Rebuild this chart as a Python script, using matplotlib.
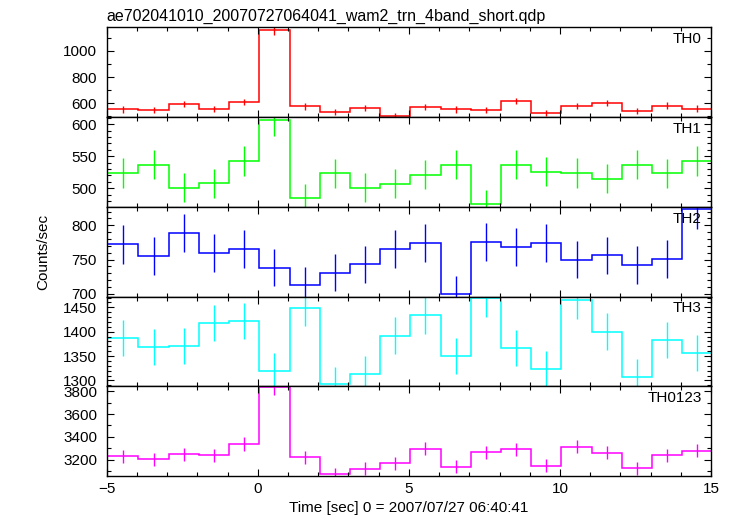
import numpy as np
from matplotlib import pyplot as plt
from matplotlib.ticker import MultipleLocator

plt.rcParams['font.family'] = ['Liberation Sans', 'DejaVu Sans']

TITLE = "ae702041010_20070727064041_wam2_trn_4band_short.qdp"
XLABEL = "Time [sec] 0 = 2007/07/27 06:40:41"
YLABEL = "Counts/sec"

# bin centres (1 s bins)
time = [-4.45, -3.45, -2.45, -1.45, -0.45, 0.55, 1.55, 2.55, 3.55, 4.55,
        5.55, 6.55, 7.55, 8.55, 9.55, 10.55, 11.55, 12.55, 13.55, 14.55]
bin_width = 1.0

th0 = [552, 546, 592, 554, 610, 1158, 575, 534, 562, 503,
       569, 552, 546, 618, 524, 577, 600, 539, 582, 559]
th1 = [524, 537, 501, 508, 543, 606, 484, 523, 501, 507,
       521, 537, 475, 537, 526, 524, 515, 537, 523, 543]
th2 = [772, 755, 789, 760, 765, 738, 713, 731, 743, 766,
       774, 699, 776, 769, 774, 750, 756, 742, 751, 824]
th3 = [1387, 1368, 1371, 1418, 1422, 1319, 1449, 1292, 1314, 1392,
       1434, 1350, 1468, 1366, 1323, 1464, 1400, 1308, 1383, 1356]
th0123 = [3232, 3206, 3250, 3241, 3338, 3832, 3221, 3074, 3124, 3171,
          3297, 3141, 3268, 3291, 3147, 3315, 3262, 3126, 3241, 3279]

names = ["TH0", "TH1", "TH2", "TH3", "TH0123"]
colors = ["#ff0000", "#00ff00", "#0000ff", "#00ffff", "#ff00ff"]
ylims = [(494, 1180), (471, 611), (696, 827), (1288, 1472), (3059, 3842)]
major = [200, 50, 50, 50, 200]
minor = [100, 10, 10, 10, 100]

FS = 11


def main():
    fig = plt.figure(figsize=(7.33, 5.16), dpi=100)
    left, right, top, bottom = 0.1456, 0.970, 0.947, 0.0775
    h = (top - bottom) / 5
    series = [th0, th1, th2, th3, th0123]
    t = np.array(time)
    edges = np.append(t - bin_width / 2, t[-1] + bin_width / 2)

    for i, vals in enumerate(series):
        ax = fig.add_axes([left, top - (i + 1) * h, right - left, h])
        vals = np.array(vals, dtype=float)
        err = np.sqrt(vals * bin_width) / bin_width  # poisson errors
        ax.stairs(vals, edges, baseline=None, color=colors[i], lw=1.1)
        ax.errorbar(t, vals, yerr=err, fmt='none', ecolor=colors[i], elinewidth=1.0, capsize=0)
        ax.set_xlim(-5, 15)
        ax.set_ylim(*ylims[i])
        ax.xaxis.set_major_locator(MultipleLocator(5))
        ax.xaxis.set_minor_locator(MultipleLocator(1))
        ax.yaxis.set_major_locator(MultipleLocator(major[i]))
        ax.yaxis.set_minor_locator(MultipleLocator(minor[i]))
        ax.tick_params(which='both', direction='in', top=True, right=True, labelsize=FS, width=0.8)
        ax.tick_params(which='major', length=5, pad=7)
        ax.tick_params(which='minor', length=3)
        ax.tick_params(axis='x', pad=4)
        for s in ax.spines.values():
            s.set_linewidth(1.0)
        if i < 4:
            ax.tick_params(labelbottom=False)
        ax.text(0.985, 0.945, names[i], transform=ax.transAxes, ha='right', va='top', fontsize=FS)

    fig.text(left, 1 - 16 / 516, TITLE, ha='left', va='center', fontsize=11.5)
    fig.text(43 / 733, (top + bottom) / 2, YLABEL, rotation=90, ha='center', va='center', fontsize=FS)
    fig.text((left + right) / 2, 1 - 508 / 516, XLABEL, ha='center', va='center', fontsize=FS)

    fig.savefig("out.png", dpi=100)


if __name__ == '__main__':
    main()
